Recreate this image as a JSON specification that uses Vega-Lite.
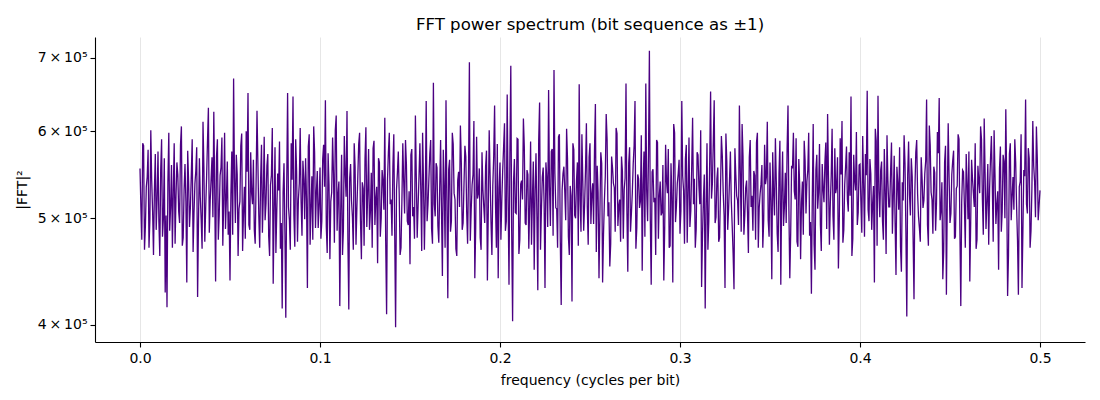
{
  "$schema": "https://vega.github.io/schema/vega-lite/v6.json",
  "width": 990,
  "height": 305,
  "autosize": {"type": "none"},
  "padding": {"left": 95, "top": 37, "right": 15, "bottom": 58},
  "background": "white",
  "title": {
    "text": "FFT power spectrum (bit sequence as ±1)",
    "font": "DejaVu Sans",
    "fontSize": 16.6,
    "fontWeight": "normal",
    "color": "black",
    "offset": 3
  },
  "data": {
    "values": [
      {"f":0.000,"p":555000},{"f":0.001,"p":478000},{"f":0.002,"p":582000},{"f":0.003,"p":492000},{"f":0.004,"p":545000},{"f":0.005,"p":470000},{"f":0.006,"p":601000},{"f":0.007,"p":508000},{"f":0.008,"p":530000},{"f":0.009,"p":488000},
      {"f":0.010,"p":575000},{"f":0.011,"p":462000},{"f":0.012,"p":590000},{"f":0.013,"p":500000},{"f":0.014,"p":428000},{"f":0.015,"p":415000},{"f":0.016,"p":598000},{"f":0.017,"p":512000},{"f":0.018,"p":470000},{"f":0.019,"p":585000},
      {"f":0.020,"p":523000},{"f":0.021,"p":548000},{"f":0.022,"p":495000},{"f":0.023,"p":606000},{"f":0.024,"p":480000},{"f":0.025,"p":560000},{"f":0.026,"p":437000},{"f":0.027,"p":540000},{"f":0.028,"p":512000},{"f":0.029,"p":590000},
      {"f":0.030,"p":505000},{"f":0.031,"p":552000},{"f":0.032,"p":424000},{"f":0.033,"p":567000},{"f":0.034,"p":498000},{"f":0.035,"p":612000},{"f":0.036,"p":476000},{"f":0.037,"p":545000},{"f":0.038,"p":630000},{"f":0.039,"p":519000},
      {"f":0.040,"p":568000},{"f":0.041,"p":625000},{"f":0.042,"p":438000},{"f":0.043,"p":590000},{"f":0.044,"p":503000},{"f":0.045,"p":556000},{"f":0.046,"p":472000},{"f":0.047,"p":598000},{"f":0.048,"p":521000},{"f":0.049,"p":483000},
      {"f":0.050,"p":439000},{"f":0.051,"p":575000},{"f":0.052,"p":670000},{"f":0.053,"p":495000},{"f":0.054,"p":548000},{"f":0.055,"p":510000},{"f":0.056,"p":582000},{"f":0.057,"p":467000},{"f":0.058,"p":534000},{"f":0.059,"p":600000},
      {"f":0.060,"p":650000},{"f":0.061,"p":488000},{"f":0.062,"p":527000},{"f":0.063,"p":565000},{"f":0.064,"p":474000},{"f":0.065,"p":626000},{"f":0.066,"p":503000},{"f":0.067,"p":541000},{"f":0.068,"p":485000},{"f":0.069,"p":593000},
      {"f":0.070,"p":516000},{"f":0.071,"p":572000},{"f":0.072,"p":462000},{"f":0.073,"p":547000},{"f":0.074,"p":436000},{"f":0.075,"p":580000},{"f":0.076,"p":508000},{"f":0.077,"p":530000},{"f":0.078,"p":469000},{"f":0.079,"p":414000},
      {"f":0.080,"p":561000},{"f":0.081,"p":406000},{"f":0.082,"p":650000},{"f":0.083,"p":498000},{"f":0.084,"p":585000},{"f":0.085,"p":645000},{"f":0.086,"p":471000},{"f":0.087,"p":552000},{"f":0.088,"p":520000},{"f":0.089,"p":604000},
      {"f":0.090,"p":482000},{"f":0.091,"p":543000},{"f":0.092,"p":567000},{"f":0.093,"p":432000},{"f":0.094,"p":596000},{"f":0.095,"p":511000},{"f":0.096,"p":478000},{"f":0.097,"p":574000},{"f":0.098,"p":529000},{"f":0.099,"p":490000},
      {"f":0.100,"p":556000},{"f":0.101,"p":497000},{"f":0.102,"p":583000},{"f":0.103,"p":640000},{"f":0.104,"p":465000},{"f":0.105,"p":537000},{"f":0.106,"p":518000},{"f":0.107,"p":592000},{"f":0.108,"p":475000},{"f":0.109,"p":620000},
      {"f":0.110,"p":526000},{"f":0.111,"p":416000},{"f":0.112,"p":571000},{"f":0.113,"p":488000},{"f":0.114,"p":549000},{"f":0.115,"p":626000},{"f":0.116,"p":413000},{"f":0.117,"p":560000},{"f":0.118,"p":502000},{"f":0.119,"p":585000},
      {"f":0.120,"p":473000},{"f":0.121,"p":545000},{"f":0.122,"p":598000},{"f":0.123,"p":459000},{"f":0.124,"p":532000},{"f":0.125,"p":566000},{"f":0.126,"p":491000},{"f":0.127,"p":578000},{"f":0.128,"p":507000},{"f":0.129,"p":470000},
      {"f":0.130,"p":588000},{"f":0.131,"p":521000},{"f":0.132,"p":455000},{"f":0.133,"p":562000},{"f":0.134,"p":500000},{"f":0.135,"p":541000},{"f":0.136,"p":617000},{"f":0.137,"p":409000},{"f":0.138,"p":574000},{"f":0.139,"p":515000},
      {"f":0.140,"p":482000},{"f":0.141,"p":596000},{"f":0.142,"p":398000},{"f":0.143,"p":550000},{"f":0.144,"p":527000},{"f":0.145,"p":470000},{"f":0.146,"p":585000},{"f":0.147,"p":505000},{"f":0.148,"p":560000},{"f":0.149,"p":493000},
      {"f":0.150,"p":454000},{"f":0.151,"p":578000},{"f":0.152,"p":512000},{"f":0.153,"p":620000},{"f":0.154,"p":480000},{"f":0.155,"p":546000},{"f":0.156,"p":530000},{"f":0.157,"p":598000},{"f":0.158,"p":468000},{"f":0.159,"p":639000},
      {"f":0.160,"p":515000},{"f":0.161,"p":572000},{"f":0.162,"p":489000},{"f":0.163,"p":664000},{"f":0.164,"p":502000},{"f":0.165,"p":556000},{"f":0.166,"p":475000},{"f":0.167,"p":589000},{"f":0.168,"p":443000},{"f":0.169,"p":534000},
      {"f":0.170,"p":640000},{"f":0.171,"p":423000},{"f":0.172,"p":565000},{"f":0.173,"p":497000},{"f":0.174,"p":584000},{"f":0.175,"p":520000},{"f":0.176,"p":462000},{"f":0.177,"p":551000},{"f":0.178,"p":607000},{"f":0.179,"p":488000},
      {"f":0.180,"p":537000},{"f":0.181,"p":569000},{"f":0.182,"p":474000},{"f":0.183,"p":693000},{"f":0.184,"p":509000},{"f":0.185,"p":548000},{"f":0.186,"p":441000},{"f":0.187,"p":593000},{"f":0.188,"p":526000},{"f":0.189,"p":480000},
      {"f":0.190,"p":574000},{"f":0.191,"p":512000},{"f":0.192,"p":557000},{"f":0.193,"p":439000},{"f":0.194,"p":601000},{"f":0.195,"p":496000},{"f":0.196,"p":535000},{"f":0.197,"p":633000},{"f":0.198,"p":470000},{"f":0.199,"p":441000},
      {"f":0.200,"p":562000},{"f":0.201,"p":519000},{"f":0.202,"p":580000},{"f":0.203,"p":487000},{"f":0.204,"p":648000},{"f":0.205,"p":435000},{"f":0.206,"p":688000},{"f":0.207,"p":403000},{"f":0.208,"p":566000},{"f":0.209,"p":505000},
      {"f":0.210,"p":590000},{"f":0.211,"p":478000},{"f":0.212,"p":541000},{"f":0.213,"p":616000},{"f":0.214,"p":495000},{"f":0.215,"p":553000},{"f":0.216,"p":469000},{"f":0.217,"p":587000},{"f":0.218,"p":520000},{"f":0.219,"p":449000},
      {"f":0.220,"p":573000},{"f":0.221,"p":430000},{"f":0.222,"p":637000},{"f":0.223,"p":508000},{"f":0.224,"p":556000},{"f":0.225,"p":432000},{"f":0.226,"p":544000},{"f":0.227,"p":654000},{"f":0.228,"p":492000},{"f":0.229,"p":578000},
      {"f":0.230,"p":682000},{"f":0.231,"p":511000},{"f":0.232,"p":470000},{"f":0.233,"p":596000},{"f":0.234,"p":417000},{"f":0.235,"p":549000},{"f":0.236,"p":528000},{"f":0.237,"p":603000},{"f":0.238,"p":481000},{"f":0.239,"p":535000},
      {"f":0.240,"p":420000},{"f":0.241,"p":577000},{"f":0.242,"p":500000},{"f":0.243,"p":562000},{"f":0.244,"p":662000},{"f":0.245,"p":486000},{"f":0.246,"p":541000},{"f":0.247,"p":514000},{"f":0.248,"p":610000},{"f":0.249,"p":473000},
      {"f":0.250,"p":585000},{"f":0.251,"p":526000},{"f":0.252,"p":494000},{"f":0.253,"p":635000},{"f":0.254,"p":558000},{"f":0.255,"p":441000},{"f":0.256,"p":574000},{"f":0.257,"p":437000},{"f":0.258,"p":519000},{"f":0.259,"p":622000},
      {"f":0.260,"p":502000},{"f":0.261,"p":452000},{"f":0.262,"p":569000},{"f":0.263,"p":538000},{"f":0.264,"p":486000},{"f":0.265,"p":597000},{"f":0.266,"p":513000},{"f":0.267,"p":476000},{"f":0.268,"p":552000},{"f":0.269,"p":531000},
      {"f":0.270,"p":663000},{"f":0.271,"p":447000},{"f":0.272,"p":580000},{"f":0.273,"p":505000},{"f":0.274,"p":560000},{"f":0.275,"p":639000},{"f":0.276,"p":490000},{"f":0.277,"p":543000},{"f":0.278,"p":518000},{"f":0.279,"p":448000},
      {"f":0.280,"p":575000},{"f":0.281,"p":663000},{"f":0.282,"p":497000},{"f":0.283,"p":710000},{"f":0.284,"p":435000},{"f":0.285,"p":554000},{"f":0.286,"p":522000},{"f":0.287,"p":589000},{"f":0.288,"p":479000},{"f":0.289,"p":540000},
      {"f":0.290,"p":506000},{"f":0.291,"p":439000},{"f":0.292,"p":583000},{"f":0.293,"p":527000},{"f":0.294,"p":470000},{"f":0.295,"p":561000},{"f":0.296,"p":437000},{"f":0.297,"p":598000},{"f":0.298,"p":512000},{"f":0.299,"p":549000},
      {"f":0.300,"p":484000},{"f":0.301,"p":639000},{"f":0.302,"p":530000},{"f":0.303,"p":566000},{"f":0.304,"p":475000},{"f":0.305,"p":592000},{"f":0.306,"p":508000},{"f":0.307,"p":617000},{"f":0.308,"p":543000},{"f":0.309,"p":489000},
      {"f":0.310,"p":571000},{"f":0.311,"p":515000},{"f":0.312,"p":433000},{"f":0.313,"p":520000},{"f":0.314,"p":414000},{"f":0.315,"p":585000},{"f":0.316,"p":497000},{"f":0.317,"p":652000},{"f":0.318,"p":538000},{"f":0.319,"p":640000},
      {"f":0.320,"p":501000},{"f":0.321,"p":556000},{"f":0.322,"p":480000},{"f":0.323,"p":594000},{"f":0.324,"p":528000},{"f":0.325,"p":432000},{"f":0.326,"p":563000},{"f":0.327,"p":510000},{"f":0.328,"p":575000},{"f":0.329,"p":492000},
      {"f":0.330,"p":431000},{"f":0.331,"p":548000},{"f":0.332,"p":519000},{"f":0.333,"p":633000},{"f":0.334,"p":486000},{"f":0.335,"p":570000},{"f":0.336,"p":503000},{"f":0.337,"p":541000},{"f":0.338,"p":465000},{"f":0.339,"p":589000},
      {"f":0.340,"p":524000},{"f":0.341,"p":552000},{"f":0.342,"p":478000},{"f":0.343,"p":598000},{"f":0.344,"p":511000},{"f":0.345,"p":537000},{"f":0.346,"p":470000},{"f":0.347,"p":583000},{"f":0.348,"p":545000},{"f":0.349,"p":498000},
      {"f":0.350,"p":562000},{"f":0.351,"p":440000},{"f":0.352,"p":527000},{"f":0.353,"p":591000},{"f":0.354,"p":484000},{"f":0.355,"p":549000},{"f":0.356,"p":435000},{"f":0.357,"p":575000},{"f":0.358,"p":512000},{"f":0.359,"p":495000},
      {"f":0.360,"p":633000},{"f":0.361,"p":441000},{"f":0.362,"p":558000},{"f":0.363,"p":598000},{"f":0.364,"p":520000},{"f":0.365,"p":476000},{"f":0.366,"p":566000},{"f":0.367,"p":459000},{"f":0.368,"p":540000},{"f":0.369,"p":588000},
      {"f":0.370,"p":505000},{"f":0.371,"p":553000},{"f":0.372,"p":482000},{"f":0.373,"p":427000},{"f":0.374,"p":609000},{"f":0.375,"p":449000},{"f":0.376,"p":571000},{"f":0.377,"p":528000},{"f":0.378,"p":493000},{"f":0.379,"p":560000},
      {"f":0.380,"p":517000},{"f":0.381,"p":586000},{"f":0.382,"p":622000},{"f":0.383,"p":473000},{"f":0.384,"p":546000},{"f":0.385,"p":502000},{"f":0.386,"p":579000},{"f":0.387,"p":534000},{"f":0.388,"p":450000},{"f":0.389,"p":591000},
      {"f":0.390,"p":613000},{"f":0.391,"p":488000},{"f":0.392,"p":557000},{"f":0.393,"p":520000},{"f":0.394,"p":574000},{"f":0.395,"p":645000},{"f":0.396,"p":479000},{"f":0.397,"p":541000},{"f":0.398,"p":599000},{"f":0.399,"p":506000},
      {"f":0.400,"p":560000},{"f":0.401,"p":485000},{"f":0.402,"p":538000},{"f":0.403,"p":572000},{"f":0.404,"p":653000},{"f":0.405,"p":497000},{"f":0.406,"p":549000},{"f":0.407,"p":515000},{"f":0.408,"p":437000},{"f":0.409,"p":588000},
      {"f":0.410,"p":646000},{"f":0.411,"p":501000},{"f":0.412,"p":563000},{"f":0.413,"p":478000},{"f":0.414,"p":530000},{"f":0.415,"p":595000},{"f":0.416,"p":512000},{"f":0.417,"p":552000},{"f":0.418,"p":484000},{"f":0.419,"p":570000},
      {"f":0.420,"p":444000},{"f":0.421,"p":538000},{"f":0.422,"p":580000},{"f":0.423,"p":447000},{"f":0.424,"p":519000},{"f":0.425,"p":561000},{"f":0.426,"p":407000},{"f":0.427,"p":587000},{"f":0.428,"p":503000},{"f":0.429,"p":546000},
      {"f":0.430,"p":422000},{"f":0.431,"p":574000},{"f":0.432,"p":526000},{"f":0.433,"p":490000},{"f":0.434,"p":568000},{"f":0.435,"p":511000},{"f":0.436,"p":549000},{"f":0.437,"p":641000},{"f":0.438,"p":472000},{"f":0.439,"p":583000},
      {"f":0.440,"p":520000},{"f":0.441,"p":557000},{"f":0.442,"p":487000},{"f":0.443,"p":599000},{"f":0.444,"p":643000},{"f":0.445,"p":508000},{"f":0.446,"p":440000},{"f":0.447,"p":562000},{"f":0.448,"p":426000},{"f":0.449,"p":610000},
      {"f":0.450,"p":495000},{"f":0.451,"p":548000},{"f":0.452,"p":576000},{"f":0.453,"p":481000},{"f":0.454,"p":535000},{"f":0.455,"p":590000},{"f":0.456,"p":416000},{"f":0.457,"p":553000},{"f":0.458,"p":514000},{"f":0.459,"p":572000},
      {"f":0.460,"p":499000},{"f":0.461,"p":438000},{"f":0.462,"p":565000},{"f":0.463,"p":527000},{"f":0.464,"p":585000},{"f":0.465,"p":478000},{"f":0.466,"p":541000},{"f":0.467,"p":606000},{"f":0.468,"p":520000},{"f":0.469,"p":616000},
      {"f":0.470,"p":489000},{"f":0.471,"p":560000},{"f":0.472,"p":532000},{"f":0.473,"p":594000},{"f":0.474,"p":476000},{"f":0.475,"p":548000},{"f":0.476,"p":515000},{"f":0.477,"p":449000},{"f":0.478,"p":581000},{"f":0.479,"p":507000},
      {"f":0.480,"p":563000},{"f":0.481,"p":628000},{"f":0.482,"p":425000},{"f":0.483,"p":572000},{"f":0.484,"p":498000},{"f":0.485,"p":545000},{"f":0.486,"p":590000},{"f":0.487,"p":512000},{"f":0.488,"p":426000},{"f":0.489,"p":540000},
      {"f":0.490,"p":432000},{"f":0.491,"p":553000},{"f":0.492,"p":641000},{"f":0.493,"p":505000},{"f":0.494,"p":567000},{"f":0.495,"p":487000},{"f":0.496,"p":613000},{"f":0.497,"p":540000},{"f":0.498,"p":606000},{"f":0.499,"p":498000},
      {"f":0.500,"p":530000},
      {"f":0.0005,"p":512000},{"f":0.0015,"p":585000},{"f":0.0025,"p":468000},{"f":0.0035,"p":534000},{"f":0.0045,"p":577000},{"f":0.0055,"p":499000},{"f":0.0065,"p":541000},{"f":0.0075,"p":463000},{"f":0.0085,"p":572000},{"f":0.0095,"p":520000},
      {"f":0.0105,"p":496000},{"f":0.0115,"p":553000},{"f":0.0125,"p":481000},{"f":0.0135,"p":567000},{"f":0.0145,"p":503000},{"f":0.0155,"p":540000},{"f":0.0165,"p":487000},{"f":0.0175,"p":559000},{"f":0.0185,"p":529000},{"f":0.0195,"p":474000},
      {"f":0.0205,"p":562000},{"f":0.0215,"p":507000},{"f":0.0225,"p":583000},{"f":0.0235,"p":472000},{"f":0.0245,"p":531000},{"f":0.0255,"p":518000},{"f":0.0265,"p":576000},{"f":0.0275,"p":491000},{"f":0.0285,"p":548000},{"f":0.0295,"p":466000},
      {"f":0.0305,"p":537000},{"f":0.0315,"p":580000},{"f":0.0325,"p":497000},{"f":0.0335,"p":522000},{"f":0.0345,"p":469000},{"f":0.0355,"p":556000},{"f":0.0365,"p":511000},{"f":0.0375,"p":588000},{"f":0.0385,"p":485000},{"f":0.0395,"p":543000},
      {"f":0.0405,"p":501000},{"f":0.0415,"p":532000},{"f":0.0425,"p":569000},{"f":0.0435,"p":478000},{"f":0.0445,"p":547000},{"f":0.0455,"p":592000},{"f":0.0465,"p":516000},{"f":0.0475,"p":489000},{"f":0.0485,"p":563000},{"f":0.0495,"p":507000},
      {"f":0.0505,"p":526000},{"f":0.0515,"p":483000},{"f":0.0525,"p":544000},{"f":0.0535,"p":571000},{"f":0.0545,"p":462000},{"f":0.0555,"p":518000},{"f":0.0565,"p":597000},{"f":0.0575,"p":506000},{"f":0.0585,"p":479000},{"f":0.0595,"p":551000},
      {"f":0.0605,"p":493000},{"f":0.0615,"p":574000},{"f":0.0625,"p":515000},{"f":0.0635,"p":488000},{"f":0.0645,"p":539000},{"f":0.0655,"p":561000},{"f":0.0665,"p":470000},{"f":0.0675,"p":583000},{"f":0.0685,"p":524000},{"f":0.0695,"p":498000},
      {"f":0.0705,"p":558000},{"f":0.0715,"p":481000},{"f":0.0725,"p":536000},{"f":0.0735,"p":604000},{"f":0.0745,"p":509000},{"f":0.0755,"p":465000},{"f":0.0765,"p":549000},{"f":0.0775,"p":587000},{"f":0.0785,"p":495000},{"f":0.0795,"p":528000},
      {"f":0.0805,"p":486000},{"f":0.0815,"p":535000},{"f":0.0825,"p":512000},{"f":0.0835,"p":468000},{"f":0.0845,"p":542000},{"f":0.0855,"p":503000},{"f":0.0865,"p":590000},{"f":0.0875,"p":476000},{"f":0.0885,"p":538000},{"f":0.0895,"p":517000},
      {"f":0.0905,"p":564000},{"f":0.0915,"p":499000},{"f":0.0925,"p":521000},{"f":0.0935,"p":581000},{"f":0.0945,"p":473000},{"f":0.0955,"p":546000},{"f":0.0965,"p":606000},{"f":0.0975,"p":490000},{"f":0.0985,"p":552000},{"f":0.0995,"p":513000},
      {"f":0.1005,"p":479000},{"f":0.1015,"p":566000},{"f":0.1025,"p":534000},{"f":0.1035,"p":491000},{"f":0.1045,"p":573000},{"f":0.1055,"p":459000},{"f":0.1065,"p":528000},{"f":0.1075,"p":549000},{"f":0.1085,"p":601000},{"f":0.1095,"p":487000},
      {"f":0.1105,"p":540000},{"f":0.1115,"p":508000},{"f":0.1125,"p":463000},{"f":0.1135,"p":594000},{"f":0.1145,"p":523000},{"f":0.1155,"p":477000},{"f":0.1165,"p":544000},{"f":0.1175,"p":519000},{"f":0.1185,"p":468000},{"f":0.1195,"p":557000},
      {"f":0.1205,"p":511000},{"f":0.1215,"p":584000},{"f":0.1225,"p":497000},{"f":0.1235,"p":539000},{"f":0.1245,"p":472000},{"f":0.1255,"p":605000},{"f":0.1265,"p":526000},{"f":0.1275,"p":488000},{"f":0.1285,"p":550000},{"f":0.1295,"p":579000},
      {"f":0.1305,"p":493000},{"f":0.1315,"p":534000},{"f":0.1325,"p":567000},{"f":0.1335,"p":481000},{"f":0.1345,"p":553000},{"f":0.1355,"p":509000},{"f":0.1365,"p":476000},{"f":0.1375,"p":542000},{"f":0.1385,"p":598000},{"f":0.1395,"p":520000},
      {"f":0.1405,"p":557000},{"f":0.1415,"p":486000},{"f":0.1425,"p":531000},{"f":0.1435,"p":575000},{"f":0.1445,"p":463000},{"f":0.1455,"p":518000},{"f":0.1465,"p":540000},{"f":0.1475,"p":589000},{"f":0.1485,"p":497000},{"f":0.1495,"p":529000},
      {"f":0.1505,"p":571000},{"f":0.1515,"p":502000},{"f":0.1525,"p":479000},{"f":0.1535,"p":546000},{"f":0.1545,"p":513000},{"f":0.1555,"p":585000},{"f":0.1565,"p":467000},{"f":0.1575,"p":538000},{"f":0.1585,"p":522000},{"f":0.1595,"p":497000},
      {"f":0.1605,"p":543000},{"f":0.1615,"p":589000},{"f":0.1625,"p":474000},{"f":0.1635,"p":515000},{"f":0.1645,"p":561000},{"f":0.1655,"p":492000},{"f":0.1665,"p":532000},{"f":0.1675,"p":508000},{"f":0.1685,"p":577000},{"f":0.1695,"p":470000},
      {"f":0.1705,"p":519000},{"f":0.1715,"p":554000},{"f":0.1725,"p":486000},{"f":0.1735,"p":598000},{"f":0.1745,"p":527000},{"f":0.1755,"p":469000},{"f":0.1765,"p":541000},{"f":0.1775,"p":512000},{"f":0.1785,"p":563000},{"f":0.1795,"p":495000},
      {"f":0.1805,"p":582000},{"f":0.1815,"p":506000},{"f":0.1825,"p":548000},{"f":0.1835,"p":477000},{"f":0.1845,"p":536000},{"f":0.1855,"p":613000},{"f":0.1865,"p":490000},{"f":0.1875,"p":521000},{"f":0.1885,"p":555000},{"f":0.1895,"p":468000},
      {"f":0.1905,"p":531000},{"f":0.1915,"p":495000},{"f":0.1925,"p":576000},{"f":0.1935,"p":508000},{"f":0.1945,"p":547000},{"f":0.1955,"p":463000},{"f":0.1965,"p":569000},{"f":0.1975,"p":515000},{"f":0.1985,"p":584000},{"f":0.1995,"p":532000},
      {"f":0.2005,"p":478000},{"f":0.2015,"p":553000},{"f":0.2025,"p":610000},{"f":0.2035,"p":497000},{"f":0.2045,"p":523000},{"f":0.2055,"p":572000},{"f":0.2065,"p":485000},{"f":0.2075,"p":539000},{"f":0.2085,"p":506000},{"f":0.2095,"p":591000},
      {"f":0.2105,"p":464000},{"f":0.2115,"p":537000},{"f":0.2125,"p":520000},{"f":0.2135,"p":581000},{"f":0.2145,"p":493000},{"f":0.2155,"p":548000},{"f":0.2165,"p":514000},{"f":0.2175,"p":473000},{"f":0.2185,"p":563000},{"f":0.2195,"p":530000},
      {"f":0.2205,"p":502000},{"f":0.2215,"p":589000},{"f":0.2225,"p":468000},{"f":0.2235,"p":545000},{"f":0.2245,"p":517000},{"f":0.2255,"p":562000},{"f":0.2265,"p":491000},{"f":0.2275,"p":534000},{"f":0.2285,"p":575000},{"f":0.2295,"p":482000},
      {"f":0.2305,"p":549000},{"f":0.2315,"p":510000},{"f":0.2325,"p":593000},{"f":0.2335,"p":476000},{"f":0.2345,"p":530000},{"f":0.2355,"p":557000},{"f":0.2365,"p":498000},{"f":0.2375,"p":567000},{"f":0.2385,"p":463000},{"f":0.2395,"p":524000},
      {"f":0.2405,"p":585000},{"f":0.2415,"p":503000},{"f":0.2425,"p":541000},{"f":0.2435,"p":472000},{"f":0.2445,"p":519000},{"f":0.2455,"p":596000},{"f":0.2465,"p":487000},{"f":0.2475,"p":553000},{"f":0.2485,"p":512000},{"f":0.2495,"p":568000},
      {"f":0.2505,"p":494000},{"f":0.2515,"p":538000},{"f":0.2525,"p":577000},{"f":0.2535,"p":466000},{"f":0.2545,"p":528000},{"f":0.2555,"p":505000},{"f":0.2565,"p":561000},{"f":0.2575,"p":483000},{"f":0.2585,"p":546000},{"f":0.2595,"p":590000},
      {"f":0.2605,"p":517000},{"f":0.2615,"p":474000},{"f":0.2625,"p":556000},{"f":0.2635,"p":533000},{"f":0.2645,"p":604000},{"f":0.2655,"p":492000},{"f":0.2665,"p":520000},{"f":0.2675,"p":569000},{"f":0.2685,"p":479000},{"f":0.2695,"p":544000},
      {"f":0.2705,"p":508000},{"f":0.2715,"p":561000},{"f":0.2725,"p":486000},{"f":0.2735,"p":527000},{"f":0.2745,"p":582000},{"f":0.2755,"p":469000},{"f":0.2765,"p":548000},{"f":0.2775,"p":511000},{"f":0.2785,"p":595000},{"f":0.2795,"p":536000},
      {"f":0.2805,"p":481000},{"f":0.2815,"p":529000},{"f":0.2825,"p":572000},{"f":0.2835,"p":499000},{"f":0.2845,"p":551000},{"f":0.2855,"p":517000},{"f":0.2865,"p":463000},{"f":0.2875,"p":586000},{"f":0.2885,"p":524000},{"f":0.2895,"p":503000},
      {"f":0.2905,"p":559000},{"f":0.2915,"p":490000},{"f":0.2925,"p":540000},{"f":0.2935,"p":578000},{"f":0.2945,"p":472000},{"f":0.2955,"p":522000},{"f":0.2965,"p":609000},{"f":0.2975,"p":496000},{"f":0.2985,"p":538000},{"f":0.2995,"p":565000},
      {"f":0.3005,"p":508000},{"f":0.3015,"p":546000},{"f":0.3025,"p":474000},{"f":0.3035,"p":583000},{"f":0.3045,"p":527000},{"f":0.3055,"p":491000},{"f":0.3065,"p":556000},{"f":0.3075,"p":515000},{"f":0.3085,"p":470000},{"f":0.3095,"p":574000},
      {"f":0.3105,"p":535000},{"f":0.3115,"p":601000},{"f":0.3125,"p":482000},{"f":0.3135,"p":548000},{"f":0.3145,"p":512000},{"f":0.3155,"p":468000},{"f":0.3165,"p":563000},{"f":0.3175,"p":521000},{"f":0.3185,"p":587000},{"f":0.3195,"p":495000},
      {"f":0.3205,"p":543000},{"f":0.3215,"p":476000},{"f":0.3225,"p":530000},{"f":0.3235,"p":570000},{"f":0.3245,"p":503000},{"f":0.3255,"p":597000},{"f":0.3265,"p":488000},{"f":0.3275,"p":541000},{"f":0.3285,"p":518000},{"f":0.3295,"p":465000},
      {"f":0.3305,"p":579000},{"f":0.3315,"p":524000},{"f":0.3325,"p":493000},{"f":0.3335,"p":552000},{"f":0.3345,"p":609000},{"f":0.3355,"p":483000},{"f":0.3365,"p":533000},{"f":0.3375,"p":506000},{"f":0.3385,"p":568000},{"f":0.3395,"p":512000},
      {"f":0.3405,"p":487000},{"f":0.3415,"p":547000},{"f":0.3425,"p":586000},{"f":0.3435,"p":470000},{"f":0.3445,"p":526000},{"f":0.3455,"p":559000},{"f":0.3465,"p":498000},{"f":0.3475,"p":537000},{"f":0.3485,"p":612000},{"f":0.3495,"p":481000},
      {"f":0.3505,"p":519000},{"f":0.3515,"p":574000},{"f":0.3525,"p":503000},{"f":0.3535,"p":540000},{"f":0.3545,"p":466000},{"f":0.3555,"p":588000},{"f":0.3565,"p":527000},{"f":0.3575,"p":492000},{"f":0.3585,"p":550000},{"f":0.3595,"p":578000},
      {"f":0.3605,"p":509000},{"f":0.3615,"p":485000},{"f":0.3625,"p":555000},{"f":0.3635,"p":529000},{"f":0.3645,"p":591000},{"f":0.3655,"p":471000},{"f":0.3665,"p":536000},{"f":0.3675,"p":517000},{"f":0.3685,"p":483000},{"f":0.3695,"p":564000},
      {"f":0.3705,"p":540000},{"f":0.3715,"p":598000},{"f":0.3725,"p":496000},{"f":0.3735,"p":521000},{"f":0.3745,"p":473000},{"f":0.3755,"p":553000},{"f":0.3765,"p":510000},{"f":0.3775,"p":584000},{"f":0.3785,"p":467000},{"f":0.3795,"p":532000},
      {"f":0.3805,"p":562000},{"f":0.3815,"p":489000},{"f":0.3825,"p":544000},{"f":0.3835,"p":515000},{"f":0.3845,"p":603000},{"f":0.3855,"p":478000},{"f":0.3865,"p":527000},{"f":0.3875,"p":568000},{"f":0.3885,"p":499000},{"f":0.3895,"p":548000},
      {"f":0.3905,"p":475000},{"f":0.3915,"p":536000},{"f":0.3925,"p":581000},{"f":0.3935,"p":507000},{"f":0.3945,"p":524000},{"f":0.3955,"p":462000},{"f":0.3965,"p":571000},{"f":0.3975,"p":530000},{"f":0.3985,"p":493000},{"f":0.3995,"p":559000},
      {"f":0.4005,"p":518000},{"f":0.4015,"p":594000},{"f":0.4025,"p":481000},{"f":0.4035,"p":547000},{"f":0.4045,"p":509000},{"f":0.4055,"p":566000},{"f":0.4065,"p":488000},{"f":0.4075,"p":535000},{"f":0.4085,"p":603000},{"f":0.4095,"p":472000},
      {"f":0.4105,"p":529000},{"f":0.4115,"p":553000},{"f":0.4125,"p":497000},{"f":0.4135,"p":578000},{"f":0.4145,"p":464000},{"f":0.4155,"p":541000},{"f":0.4165,"p":512000},{"f":0.4175,"p":586000},{"f":0.4185,"p":523000},{"f":0.4195,"p":495000},
      {"f":0.4205,"p":557000},{"f":0.4215,"p":509000},{"f":0.4225,"p":471000},{"f":0.4235,"p":539000},{"f":0.4245,"p":595000},{"f":0.4255,"p":486000},{"f":0.4265,"p":548000},{"f":0.4275,"p":525000},{"f":0.4285,"p":567000},{"f":0.4295,"p":480000},
      {"f":0.4305,"p":531000},{"f":0.4315,"p":589000},{"f":0.4325,"p":502000},{"f":0.4335,"p":476000},{"f":0.4345,"p":543000},{"f":0.4355,"p":519000},{"f":0.4365,"p":564000},{"f":0.4375,"p":493000},{"f":0.4385,"p":607000},{"f":0.4395,"p":528000},
      {"f":0.4405,"p":484000},{"f":0.4415,"p":550000},{"f":0.4425,"p":516000},{"f":0.4435,"p":573000},{"f":0.4445,"p":498000},{"f":0.4455,"p":539000},{"f":0.4465,"p":467000},{"f":0.4475,"p":582000},{"f":0.4485,"p":521000},{"f":0.4495,"p":545000},
      {"f":0.4505,"p":505000},{"f":0.4515,"p":564000},{"f":0.4525,"p":479000},{"f":0.4535,"p":532000},{"f":0.4545,"p":596000},{"f":0.4555,"p":488000},{"f":0.4565,"p":517000},{"f":0.4575,"p":551000},{"f":0.4585,"p":470000},{"f":0.4595,"p":538000},
      {"f":0.4605,"p":575000},{"f":0.4615,"p":496000},{"f":0.4625,"p":543000},{"f":0.4635,"p":512000},{"f":0.4645,"p":469000},{"f":0.4655,"p":558000},{"f":0.4665,"p":527000},{"f":0.4675,"p":590000},{"f":0.4685,"p":483000},{"f":0.4695,"p":549000},
      {"f":0.4705,"p":518000},{"f":0.4715,"p":473000},{"f":0.4725,"p":566000},{"f":0.4735,"p":537000},{"f":0.4745,"p":601000},{"f":0.4755,"p":494000},{"f":0.4765,"p":529000},{"f":0.4775,"p":555000},{"f":0.4785,"p":486000},{"f":0.4795,"p":571000},
      {"f":0.4805,"p":500000},{"f":0.4815,"p":541000},{"f":0.4825,"p":463000},{"f":0.4835,"p":585000},{"f":0.4845,"p":523000},{"f":0.4855,"p":509000},{"f":0.4865,"p":562000},{"f":0.4875,"p":478000},{"f":0.4885,"p":534000},{"f":0.4895,"p":596000},
      {"f":0.4905,"p":487000},{"f":0.4915,"p":546000},{"f":0.4925,"p":515000},{"f":0.4935,"p":579000},{"f":0.4945,"p":470000},{"f":0.4955,"p":532000},{"f":0.4965,"p":558000},{"f":0.4975,"p":501000},{"f":0.4985,"p":567000},{"f":0.4995,"p":514000}
    ]
  },
  "mark": {"type": "line", "color": "#4b0082", "strokeWidth": 1.3},
  "encoding": {
    "x": {
      "field": "f",
      "type": "quantitative",
      "sort": "ascending",
      "scale": {"domain": [-0.025, 0.525], "nice": false, "zero": false},
      "axis": {
        "values": [0, 0.1, 0.2, 0.3, 0.4, 0.5],
        "format": ".1f",
        "title": "frequency (cycles per bit)",
        "grid": true,
        "gridColor": "#e6e6e6",
        "gridWidth": 1,
        "labelPadding": 4,
        "titlePadding": 8
      }
    },
    "y": {
      "field": "p",
      "type": "quantitative",
      "scale": {"type": "log", "domain": [385900, 730700], "nice": false},
      "axis": {
        "values": [400000, 500000, 600000, 700000],
        "labelExpr": "format(datum.value / 100000, 'd') + '\u2009×\u200910⁵'",
        "title": "|FFT|²",
        "grid": false,
        "titlePadding": 8
      }
    }
  },
  "config": {
    "view": {"stroke": null},
    "axis": {
      "domainColor": "black",
      "domainWidth": 1.1,
      "tickColor": "black",
      "tickWidth": 1.1,
      "tickSize": 5,
      "labelPadding": 3,
      "labelColor": "black",
      "titleColor": "black",
      "labelFont": "DejaVu Sans",
      "titleFont": "DejaVu Sans",
      "labelFontSize": 14,
      "titleFontSize": 14,
      "titleFontWeight": "normal"
    }
  }
}
